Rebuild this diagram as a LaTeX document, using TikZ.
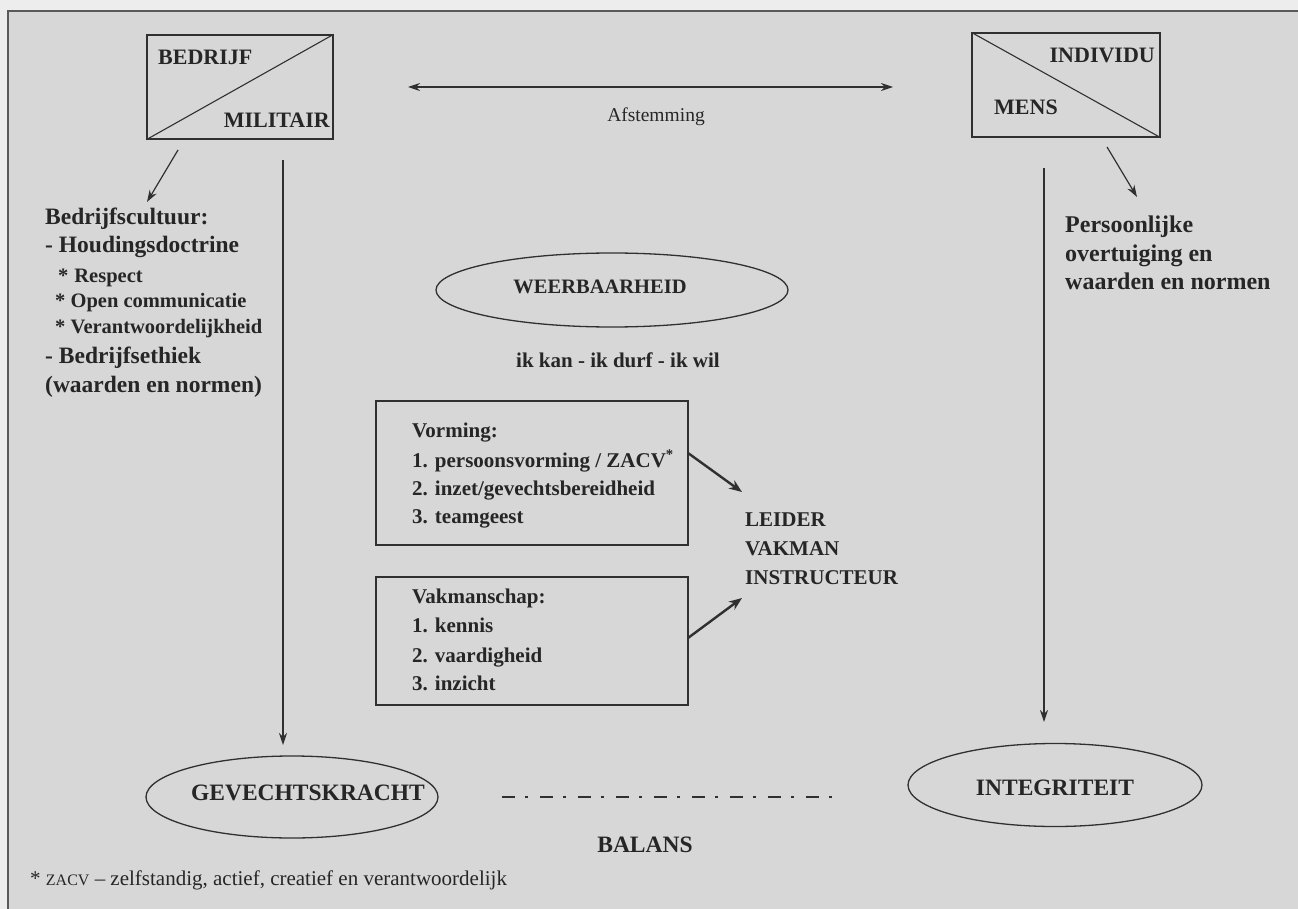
\documentclass[tikz,border=0pt]{standalone}
\usepackage{fontspec}
\setmainfont{Liberation Serif}
\usetikzlibrary{arrows.meta,shapes.geometric}
\definecolor{bgout}{HTML}{EDEDED}
\definecolor{bgin}{HTML}{D7D7D7}
\definecolor{ink}{HTML}{262626}
\definecolor{linec}{HTML}{303030}
\newcommand\fsz[1]{\fontsize{#1}{#1}\selectfont}
\begin{document}
\begin{tikzpicture}[x=1pt,y=-1pt,
  lt/.style={inner sep=0pt, text=ink, anchor=base west},
  ct/.style={inner sep=0pt, text=ink, anchor=base},
  rt/.style={inner sep=0pt, text=ink, anchor=base east},
  bL/.style={font=\fsz{23.5}\bfseries},
  bM/.style={font=\fsz{21}\bfseries},
  bS/.style={font=\fsz{20.5}\bfseries},
  rg/.style={font=\fsz{19.5}},
  box/.style={draw=linec, line width=1.3pt, rectangle, inner sep=0pt},
  oval/.style={draw=linec, line width=1.3pt, ellipse, inner sep=0pt},
  diag/.style={draw=linec, line width=1.1pt},
  arr/.style={draw=linec, line width=1.2pt, -{Stealth[length=12pt,width=8pt]}},
  thickarr/.style={draw=linec, line width=2.4pt, -{Stealth[length=13pt,width=10pt]}},
  dblarr/.style={draw=linec, line width=1.2pt, {Stealth[length=12pt,width=8pt]}-{Stealth[length=12pt,width=8pt]}},
  dashdot/.style={draw=linec, line width=2.6pt, dash pattern=on 13pt off 10pt on 3pt off 12pt}
]
% background and frame
\fill[bgout] (0,0) rectangle (1298,909);
\fill[bgin] (8,11) rectangle (1298,909);
\useasboundingbox (0,0) rectangle (1298,909);
\draw[draw=linec!80, line width=1.2pt] (8,909) -- (8,11) -- (1298,11);

% BEDRIJF / MILITAIR box
\node[box, minimum width=186pt, minimum height=104pt] (bm) at (240,87) {};
\draw[diag] (bm.south west) -- (bm.north east);
\node[lt, font=\fsz{22}\bfseries] (bedrijf) at (158,65) {BEDRIJF};
\node[rt, font=\fsz{22}\bfseries] (militair) at (330,128) {MILITAIR};

% INDIVIDU / MENS box
\node[box, minimum width=188pt, minimum height=104pt] (im) at (1066,85) {};
\draw[diag] (im.north west) -- (im.south east);
\node[rt, font=\fsz{22}\bfseries] (individu) at (1155,63) {INDIVIDU};
\node[lt, font=\fsz{22}\bfseries] (mens) at (994,115) {MENS};

% Afstemming
\coordinate (afL) at (408,87);
\coordinate (afR) at (893,87);
\draw[dblarr] (afL) -- (afR);
\node[ct, rg] (afst) at (656,122) {Afstemming};

% left text block
\node[lt, bL] (cult) at (45,225) {Bedrijfscultuur:};
\node[lt, bL] (houd) at (45,253) {- Houdingsdoctrine};
\node[lt, bS] (resp) at (58,283) {*\hspace{6pt}Respect};
\node[lt, bS] (open) at (55,308) {* Open communicatie};
\node[lt, bS] (verant) at (55,333) {* Verantwoordelijkheid};
\node[lt, bL] (ethiek) at (45,363) {- Bedrijfsethiek};
\node[lt, bL] (wnl) at (45,392) {(waarden en normen)};

% right text block
\node[lt, font=\fsz{24}\bfseries] (pers) at (1065,233) {Persoonlijke};
\node[lt, font=\fsz{24}\bfseries] (overt) at (1065,262) {overtuiging en};
\node[lt, font=\fsz{24}\bfseries] (wnr) at (1065,290) {waarden en normen};

% arrows from boxes
\coordinate (a1s) at (178,150);
\coordinate (a1e) at (147,202);
\draw[arr] (a1s) -- (a1e);
\coordinate (a2s) at (1107,147);
\coordinate (a2e) at (1137,197);
\draw[arr] (a2s) -- (a2e);

% long vertical arrows
\coordinate (lvs) at (283,160);
\coordinate (lve) at (283,745);
\draw[arr] (lvs) -- (lve);
\coordinate (rvs) at (1044,168);
\coordinate (rve) at (1044,722);
\draw[arr] (rvs) -- (rve);

% WEERBAARHEID
\node[oval, minimum width=352pt, minimum height=74pt] (weer) at (612,290) {};
\node[ct, bS] (weert) at (600,294) {WEERBAARHEID};
\node[ct, bM] (ikkan) at (618,367) {ik kan - ik durf - ik wil};

% Vorming box
\node[box, minimum width=312pt, minimum height=144pt] (vor) at (532,473) {};
\node[lt, bM] (vor0) at (412,437) {Vorming:};
\node[lt, bM] (vor1) at (412,467) {1. persoonsvorming / ZACV\textsuperscript{*}};
\node[lt, bM] (vor2) at (412,495) {2. inzet/gevechtsbereidheid};
\node[lt, bM] (vor3) at (412,523) {3. teamgeest};

% Vakmanschap box
\node[box, minimum width=312pt, minimum height=128pt] (vak) at (532,641) {};
\node[lt, bM] (vak0) at (412,603) {Vakmanschap:};
\node[lt, bM] (vak1) at (412,632) {1. kennis};
\node[lt, bM] (vak2) at (412,662) {2. vaardigheid};
\node[lt, bM] (vak3) at (412,690) {3. inzicht};

% LEIDER block
\node[lt, bM] (leider) at (745,526) {LEIDER};
\node[lt, bM] (vakman) at (745,555) {VAKMAN};
\node[lt, bM] (instr) at (745,584) {INSTRUCTEUR};
\coordinate (t1s) at (688,453);
\coordinate (t1e) at (742,492);
\draw[thickarr] (t1s) -- (t1e);
\coordinate (t2s) at (688,638);
\coordinate (t2e) at (742,598);
\draw[thickarr] (t2s) -- (t2e);

% GEVECHTSKRACHT
\node[oval, minimum width=292pt, minimum height=82pt] (gev) at (292,797) {};
\node[ct, bL] (gevt) at (308,800) {GEVECHTSKRACHT};

% INTEGRITEIT
\node[oval, minimum width=294pt, minimum height=83pt] (integ) at (1055,785) {};
\node[ct, bL] (integt) at (1055,795) {INTEGRITEIT};

% BALANS
\coordinate (bl1) at (502,797);
\coordinate (bl2) at (835,797);
\draw[dashdot] (bl1) -- (bl2);
\node[ct, bL] (balans) at (645,852) {BALANS};

% footnote
\node[lt, font=\fsz{21}] (fn) at (30,885) {* {\fsz{16}ZACV} – zelfstandig, actief, creatief en verantwoordelijk};
\end{tikzpicture}
\end{document}
